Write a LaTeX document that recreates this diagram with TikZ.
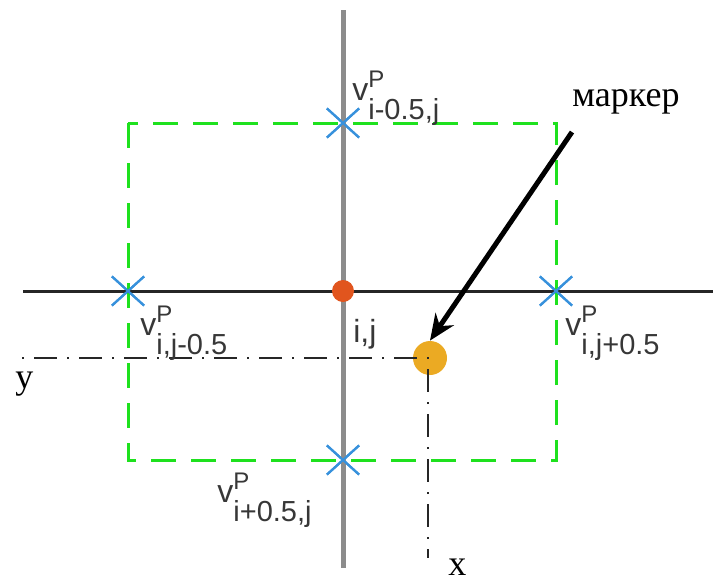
\documentclass[tikz,border=0pt]{standalone}
\usepackage{fontspec}
\setmainfont{Liberation Serif}
\setsansfont{Liberation Sans}
\usetikzlibrary{positioning,shapes.misc,arrows.meta}
\definecolor{cellgreen}{RGB}{30,225,30}
\definecolor{crossblue}{RGB}{55,145,220}
\definecolor{nodered}{RGB}{225,85,30}
\definecolor{markorange}{RGB}{235,170,35}
\definecolor{axisgray}{RGB}{140,140,140}
\definecolor{labgray}{RGB}{55,55,55}
\tikzset{every picture/.style={line width=0.75pt}}
\tikzset{
  axisv/.style   ={draw=axisgray, line width=5pt},
  axish/.style   ={draw=black!85, line width=3pt},
  cellbox/.style ={draw=cellgreen, line width=3pt, dash pattern=on 25pt off 15pt},
  vcross/.style  ={cross out, draw=crossblue, line width=2.2pt, inner sep=0pt,
                   minimum width=30pt, minimum height=27pt},
  cnode/.style   ={circle, fill=nodered, inner sep=0pt, minimum size=22pt},
  mknode/.style  ={circle, fill=markorange, inner sep=0pt, minimum size=34pt},
  dashdot/.style ={draw=black!85, line width=2.5pt, dash pattern=on 2pt off 10pt on 23pt off 10pt},
  mkarrow/.style ={-{Stealth[length=26pt,width=22pt]}, line width=5pt},
  vtext/.style   ={anchor=base west, inner sep=0pt, text=labgray,
                   font=\sffamily\fontsize{32}{34}\selectfont},
  rtext/.style   ={anchor=base west, inner sep=0pt,
                   font=\rmfamily\fontsize{36}{40}\selectfont},
}
\newcommand{\vlab}[1]{v\rlap{\raisebox{13pt}{\fontsize{24}{24}\selectfont P}}\raisebox{-19pt}{\fontsize{29}{29}\selectfont #1}}

\begin{document}
\begin{tikzpicture}[x=1pt, y=-1pt]
    \useasboundingbox (0,0) rectangle (713,582);
    % axes through cell i,j
    \coordinate (gtop) at (343,10);
    \coordinate (gbot) at (343,568);
    \coordinate (hl) at (23,291);
    \coordinate (hr) at (713,291);
    % face points
    \node[vcross] (vt) at (343,123) {};
    \node[vcross] (vl) at (128,291) {};
    \node[vcross] (vr) at (556,291) {};
    \node[vcross] (vb) at (343,460) {};
    \draw[cellbox] (vl.center |- vt.center) rectangle (vr.center |- vb.center);
    \draw[axish] (hl) -- (hr);
    \draw[axisv] (gtop) -- (gbot);
    \node[vcross] at (vt) {};
    \node[vcross] at (vl) {};
    \node[vcross] at (vr) {};
    \node[vcross] at (vb) {};
    \node[cnode] (ij) at (343,291) {};
    % marker and its projections
    \node[mknode] (md) at (430,358) {};
    \coordinate (dl) at (22,358);
    \coordinate (dbot) at (428,558);
    \draw[dashdot] (dl) -- (dl -| dbot) -- (dbot);
    % labels
    \node[vtext] (lt) at (352,100) {\vlab{i-0.5,j}};
    \node[vtext] (ll) at (140,335) {\vlab{i,j-0.5}};
    \node[vtext] (lr) at (565,335) {\vlab{i,j+0.5}};
    \node[vtext] (lb) at (217,502) {\vlab{i+0.5,j}};
    \node[vtext] (lij) at (353,342) {i,j};
    \node[rtext] (mk) at (572,106) {маркер};
    \node[rtext] (ly) at (15,388) {y};
    \node[rtext] (lx) at (448,575) {x};
    \draw[mkarrow] ([yshift=-18pt]mk.south west) -- (md.north);
\end{tikzpicture}
\end{document}
